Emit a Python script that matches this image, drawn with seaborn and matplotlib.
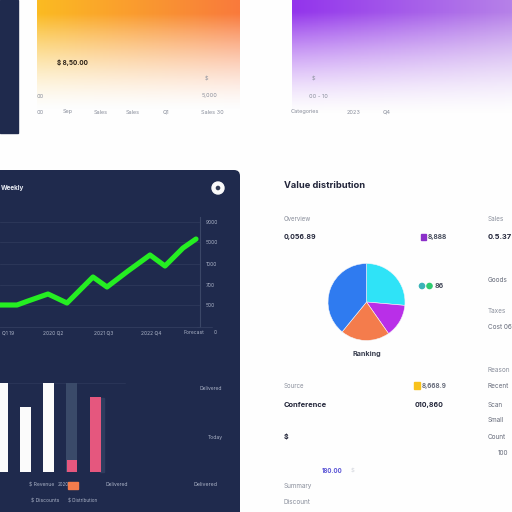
import numpy as np
import pandas as pd
import matplotlib
matplotlib.use("Agg")
import matplotlib.pyplot as plt
from matplotlib.patches import FancyBboxPatch, Rectangle, Circle
from matplotlib.colors import to_rgb
import seaborn as sns

sns.set_theme(style="white")
plt.rcParams["font.family"] = ["Inter", "DejaVu Sans"]

# ---- data ----
line_x = [0, 1.7, 2.8, 4.8, 6.7, 9.3, 10.7, 12.8, 15, 16.5, 18.3, 19.6]
line_y = [220, 220, 260, 330, 240, 500, 400, 560, 720, 610, 790, 880]
y_ticks = [220, 420, 630, 850, 1050]
y_labels = ["500", "700", "1000", "5000", "9000"]
x_ticks = [0.8, 5.3, 10.4, 15.1, 19.4]
x_labels = ["Q1 19", "2020 Q2", "2021 Q3", "2022 Q4", "Forecast"]

bar_cats = ["A", "B", "C", "D", "E"]
bar_vals = [100, 73, 100, 100, 84]
bar_overlay = [0, 0, 0, 14, 0]
bar_colors = ["#fbfbfb", "#fbfbfb", "#fbfbfb", "#3a4a69", "#e5577e"]

pie_vals = [26.4, 13.9, 20.6, 39.1]
pie_colors = ["#2fe3f7", "#b92fe8", "#f47c4c", "#2f7bf0"]

NAVY = "#1f2a4d"
W = 512

fig = plt.figure(figsize=(5.12, 5.12), dpi=100, facecolor="#fefefe")


def axpx(x0, y0, x1, y1, **kw):
    return fig.add_axes([x0 / W, 1 - y1 / W, (x1 - x0) / W, (y1 - y0) / W], **kw)


bg = axpx(0, 0, W, W, zorder=0)
bg.set_xlim(0, W)
bg.set_ylim(W, 0)
bg.axis("off")


def grad(x0, x1, y1, c_left, c_right, fade_start):
    n = 120
    m = 120
    L = np.array(to_rgb(c_left))
    R = np.array(to_rgb(c_right))
    u = np.linspace(0, 1, n)[None, :, None]
    rgb = np.tile(L[None, None, :], (m, n, 1)) * (1 - u) + np.tile(R[None, None, :], (m, n, 1)) * u
    v = np.linspace(0, 1, m)
    a = np.clip((1 - v) / (1 - fade_start), 0, 1) ** 1.5
    rgba = np.dstack([rgb, np.tile(a[:, None], (1, n))])
    bg.imshow(rgba, extent=(x0, x1, y1, 0), aspect="auto", zorder=1, interpolation="bilinear")


grad(37, 240, 112, "#fbbb22", "#f97a3c", 0.12)
grad(292, 512, 116, "#9334ec", "#b681e8", 0.1)
bg.set_xlim(0, W)
bg.set_ylim(W, 0)

bg.add_patch(Rectangle((0, 0), 17.5, 133, color=NAVY, zorder=2))
bg.add_patch(FancyBboxPatch((-20, 170), 260, 370, boxstyle="round,pad=0,rounding_size=6",
                            facecolor=NAVY, edgecolor="none", zorder=2))
bg.add_patch(Circle((218, 188), 6, color="#fafafa", zorder=3))
bg.add_patch(Circle((218, 188), 1.6, color="#333b55", zorder=4))
bg.add_patch(Rectangle((68, 482), 10, 6.5, color="#f47c4c", zorder=3))
bg.plot([0, 125], [383, 383], color="#2c3759", lw=0.6, zorder=3)
bg.add_patch(Rectangle((100, 398), 4, 74, color="#2f3c5e", zorder=3))
bg.plot([197, 212], [327, 327], color="#333e60", lw=0.6, zorder=3)


def t(x, y, s, size=4.2, color="#8a8f9c", weight="normal", ha="left"):
    bg.text(x, y, s, fontsize=size, color=color, fontweight=weight, ha=ha, va="center", zorder=6)


DARK = "#23263a"
PANEL = "#aab2c6"

# top cards
t(57, 63, "$ 8,50.00", 4.6, "#2b2118", "bold")
t(205, 79, "$", 4)
t(202, 96, "5,000", 4)
t(37, 96, "00", 4)
for x, s in [(37, "00"), (63, "Sep"), (94, "Sales"), (126, "Sales"), (163, "Q1"), (201, "Sales 30")]:
    t(x, 112, s, 4)
t(312, 79, "$", 4)
t(309, 96, "00 - 10", 4)
for x, s in [(291, "Categories"), (347, "2023"), (383, "Q4")]:
    t(x, 112, s, 4)

# dark panel
t(1, 188, "Weekly", 4.6, "#e8ebf3", "bold")
t(199, 388, "Delivered", 3.6, PANEL)
t(208, 437, "Today", 3.6, PANEL)
t(193, 485, "Delivered", 3.8, PANEL)
t(29, 485, "$ Revenue", 3.6, PANEL)
t(58, 485, "2020", 3.2, PANEL)
t(106, 485, "Delivered", 3.6, PANEL)
t(31, 501, "$ Discounts", 3.6, PANEL)
t(68, 501, "$ Distribution", 3.3, PANEL)

# right column
t(284, 185, "Value distribution", 6.7, "#22253a", "bold")
t(284, 219, "Overview", 4.4)
t(284, 237, "0,056.89", 5.0, DARK, "bold")
bg.add_patch(Rectangle((421, 234), 4.5, 6, color="#8b2fc9", zorder=4))
t(428, 237, "8,888", 4.8, "#444a5a", "bold")
bg.add_patch(Circle((422, 286), 2.6, color="#3bb3b8", zorder=4))
bg.add_patch(Circle((429.5, 286), 2.6, color="#2ecc71", zorder=4))
t(435, 286, "86", 5, "#444a5a", "bold")
t(366.5, 354, "Ranking", 5.2, "#3a3f50", "bold", "center")
t(284, 386, "Source", 4.4)
bg.add_patch(Rectangle((414, 382), 6, 7, color="#f8c21c", zorder=4))
t(422, 386, "8,668.9", 4.6, "#666b7a", "bold")
t(284, 405, "Conference", 5.4, DARK, "bold")
t(415, 405, "010,860", 5.0, DARK, "bold")
t(284, 437, "$", 5, DARK, "bold")
t(322, 471, "180.00", 4.4, "#5b55d6", "bold")
t(351, 471, "$", 4.2, "#cfd2da")
t(284, 486, "Summary", 4.6)
t(284, 502, "Discount", 4.6)
t(488, 219, "Sales", 4.6)
t(488, 237, "0.5.37", 5.4, DARK, "bold")
t(488, 280, "Goods", 4.6, "#666b7a")
t(488, 311, "Taxes", 4.6)
t(488, 327, "Cost 06", 4.6, "#666b7a")
t(488, 370, "Reason", 4.6)
t(488, 386, "Recent", 4.6, "#666b7a")
t(488, 405, "Scan", 4.6, "#666b7a")
t(488, 420, "Small", 4.6, "#666b7a")
t(488, 437, "Count", 4.6, "#666b7a")
t(498, 453, "100", 4.6, "#666b7a")

# line chart
ax = axpx(0, 217, 200, 327, zorder=3)
ax.patch.set_alpha(0)
df_line = pd.DataFrame({"x": line_x, "y": line_y})
sns.lineplot(data=df_line, x="x", y="y", ax=ax, color="#25ee22", linewidth=3.7,
             solid_capstyle="round", solid_joinstyle="round", zorder=5, clip_on=False)
ax.set_xlim(0, 20)
ax.set_ylim(0, 1100)
ax.set_yticks(y_ticks, y_labels)
ax.set_xticks(x_ticks, x_labels)
ax.yaxis.tick_right()
ax.tick_params(axis="both", length=0, labelsize=3.6, labelcolor=PANEL, pad=4)
ax.tick_params(axis="x", pad=2.5)
ax.set_xlabel("")
ax.set_ylabel("")
ax.grid(axis="y", color="#2c3759", lw=0.7)
sns.despine(ax=ax, left=True, top=True, bottom=False, right=False)
ax.spines["right"].set_color("#3b4767")
ax.spines["right"].set_linewidth(0.8)
ax.spines["bottom"].set_color("#333e60")
ax.spines["bottom"].set_linewidth(0.6)
t(214, 332, "0", 3.6, PANEL)

# bar chart
bx = axpx(0, 383, 240, 472, zorder=3)
bx.patch.set_alpha(0)
df_bar = pd.DataFrame({"cat": bar_cats, "v": bar_vals, "o": bar_overlay})
sns.barplot(data=df_bar, x="cat", y="v", hue="cat", palette=bar_colors, dodge=False,
            width=0.48, legend=False, ax=bx, saturation=1, edgecolor="none", linewidth=0)
sns.barplot(data=df_bar, x="cat", y="o", color="#e5577e", width=0.44, ax=bx, saturation=1,
            edgecolor="none", linewidth=0)
step = 23.3
bx.set_xlim(-2 / step, (240 - 2) / step)
bx.set_ylim(0, 100)
bx.axis("off")

# pie chart
px = axpx(366.5 - 40, 302 - 40, 366.5 + 40, 302 + 40, zorder=3)
px.pie(pie_vals, colors=pie_colors, startangle=90, counterclock=False, radius=38.5 / 40,
       wedgeprops={"edgecolor": "#f4f6fa", "linewidth": 0.4})
px.set_xlim(-1, 1)
px.set_ylim(-1, 1)

fig.savefig("out.png", dpi=100, facecolor=fig.get_facecolor())
